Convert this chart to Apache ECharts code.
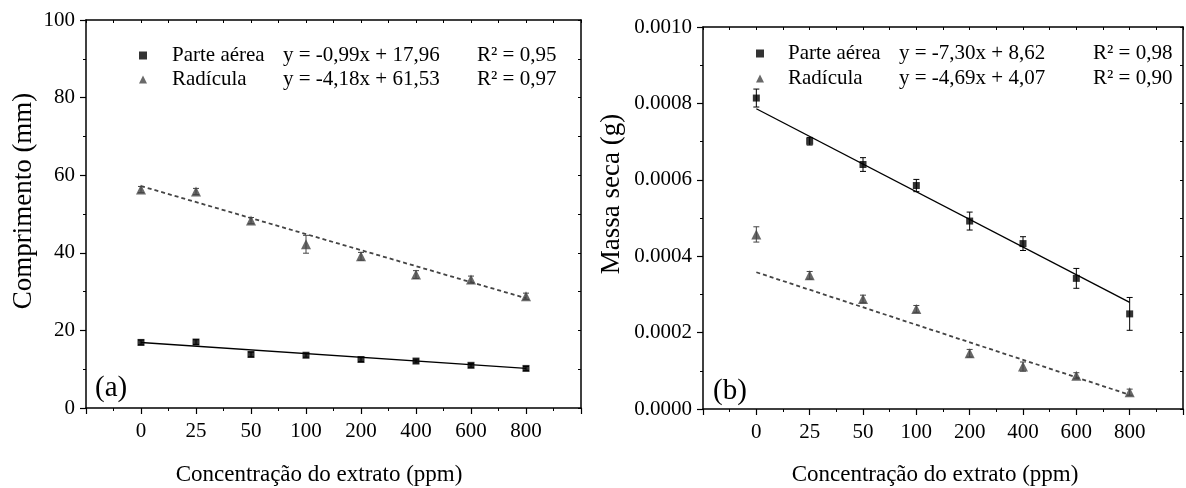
<!DOCTYPE html>
<html><head><meta charset="utf-8">
<script src="https://cdn.jsdelivr.net/npm/echarts@6/dist/echarts.min.js"></script>
<style>html,body{margin:0;padding:0;background:#fff}#c{width:1186px;height:488px}</style>
</head><body><div id="c"></div>
<script>
// ---- data ----
var categories = ['0','25','50','100','200','400','600','800'];
// panel (a) Comprimento (mm)
var aParte = [16.9, 17.0, 13.8, 13.6, 12.5, 12.1, 11.0, 10.2];
var aParteErr = [0.6, 0.6, 0.6, 0.5, 0.5, 0.5, 0.5, 0.5];
var aRad = [56.3, 55.8, 48.3, 42.2, 39.1, 34.4, 33.1, 28.8];
var aRadErr = [0.8, 0.8, 0.8, 2.3, 1.0, 1.0, 0.9, 0.8];
var aTrendParte = [16.9, 10.2];
var aTrendRad = [57.2, 28.3];
// panel (b) Massa seca (g)
var bParte = [0.000814, 0.000701, 0.000640, 0.000585, 0.000492, 0.000433, 0.000342, 0.000249];
var bParteErr = [0.0000235, 0.000010, 0.000018, 0.000016, 0.0000235, 0.000018, 0.000026, 0.000043];
var bRad = [0.000457, 0.000350, 0.000288, 0.000262, 0.000146, 0.000111, 0.000087, 0.000044];
var bRadErr = [0.000020, 0.000010, 0.000010, 0.000009, 0.000010, 0.000012, 0.000008, 0.000008];
var bTrendParte = [0.000786, 0.000279];
var bTrendRad = [0.000358, 0.000037];
var yTicksA = {min: 0, max: 100, interval: 20};
var yTicksB = {min: 0, max: 0.001, interval: 0.0002};
var eqA = {'Parte aérea': ['y = -0,99x + 17,96', 'R² = 0,95'], 'Radícula': ['y = -4,18x + 61,53', 'R² = 0,97']};
var eqB = {'Parte aérea': ['y = -7,30x + 8,62', 'R² = 0,98'], 'Radícula': ['y = -4,69x + 4,07', 'R² = 0,90']};

var FONT = 'Liberation Serif';
var BLACK = '#000';
var GRAY = '#444444';

function pts(arr){ return arr.map(function(v,i){ return [i, v]; }); }
function errData(vals, errs){ return vals.map(function(v,i){ return [i, v - errs[i], v + errs[i]]; }); }
function trendData(t){ return [[0, t[0]], [categories.length - 1, t[1]]]; }

function errSeries(name, vals, errs, idx, color){
  return {
    name: name, type: 'custom', xAxisIndex: idx*2, yAxisIndex: idx*2, z: 2,
    data: errData(vals, errs), silent: true,
    renderItem: function(params, api){
      var lo = api.coord([api.value(0), api.value(1)]);
      var hi = api.coord([api.value(0), api.value(2)]);
      var w = 3;
      return {type: 'group', children: [
        {type:'line', shape:{x1:lo[0], y1:lo[1], x2:hi[0], y2:hi[1]}, style:{stroke:color, lineWidth:1}},
        {type:'line', shape:{x1:lo[0]-w, y1:lo[1], x2:lo[0]+w, y2:lo[1]}, style:{stroke:color, lineWidth:1}},
        {type:'line', shape:{x1:hi[0]-w, y1:hi[1], x2:hi[0]+w, y2:hi[1]}, style:{stroke:color, lineWidth:1}}
      ]};
    }
  };
}

function xAxes(gi){
  return [{
    type: 'value', gridIndex: gi, min: -1, max: 8, interval: 1, position: 'bottom',
    axisLine: {show: true, onZero: false, lineStyle: {color: BLACK, width: 1.5}},
    axisTick: {show: true, inside: false, length: 6, lineStyle: {color: BLACK, width: 1.2}},
    minorTick: {show: true, splitNumber: 2, length: 3, lineStyle: {color: BLACK, width: 1}},
    splitLine: {show: false},
    axisLabel: {margin: 13, fontFamily: FONT, fontSize: 21, color: BLACK,
      formatter: function(v){ return (v >= 0 && v < categories.length) ? categories[v] : ''; }}
  }, {
    type: 'value', gridIndex: gi, min: -1, max: 8, interval: 0.5, position: 'top',
    axisLine: {show: true, onZero: false, lineStyle: {color: BLACK, width: 1.5}},
    axisTick: {show: true, inside: true, length: 3, lineStyle: {color: BLACK, width: 1}},
    splitLine: {show: false}, axisLabel: {show: false}
  }];
}
function yAxes(gi, t, fmt){
  return [{
    type: 'value', gridIndex: gi, min: t.min, max: t.max, interval: t.interval, position: 'left',
    axisLine: {show: true, onZero: false, lineStyle: {color: BLACK, width: 1.5}},
    axisTick: {show: true, inside: false, length: 6, lineStyle: {color: BLACK, width: 1.2}},
    minorTick: {show: true, splitNumber: 2, length: 3, lineStyle: {color: BLACK, width: 1}},
    splitLine: {show: false},
    axisLabel: {margin: 11, fontFamily: FONT, fontSize: 21, color: BLACK, formatter: fmt}
  }, {
    type: 'value', gridIndex: gi, min: t.min, max: t.max, interval: t.interval / 2, position: 'right',
    axisLine: {show: true, onZero: false, lineStyle: {color: BLACK, width: 1.5}},
    axisTick: {show: true, inside: true, length: 3, lineStyle: {color: BLACK, width: 1}},
    splitLine: {show: false}, axisLabel: {show: false}
  }];
}

function legendFor(eq, left, top, gap, spacer){
  return {
    left: left, top: top, orient: 'vertical', itemGap: gap, itemWidth: 8, itemHeight: 8,
    selectedMode: false,
    data: [{name: 'Parte aérea', icon: 'rect'}, {name: 'Radícula', icon: 'triangle'}],
    formatter: function(name){
      return '{s|}{n|' + name + '}{e|' + eq[name][0] + '}{r|' + eq[name][1] + '}';
    },
    textStyle: {fontFamily: FONT, fontSize: 21, color: BLACK,
      rich: {
        s: {width: spacer, fontFamily: FONT, fontSize: 21, lineHeight: 24},
        n: {width: 111, fontFamily: FONT, fontSize: 21, lineHeight: 24, color: BLACK},
        e: {width: 194, fontFamily: FONT, fontSize: 21, lineHeight: 24, color: BLACK},
        r: {fontFamily: FONT, fontSize: 21, lineHeight: 24, color: BLACK}
      }}
  };
}

function txt(text, x, y, size, rot, align){
  return {type: 'text', x: x, y: y, rotation: rot || 0,
    style: {text: text, fontFamily: FONT, fontSize: size, fill: BLACK,
      textAlign: align || 'center', textVerticalAlign: 'middle'}};
}

var chart = echarts.init(document.getElementById('c'), null, {renderer: 'canvas'});
var option = {
  backgroundColor: '#fff',
  animation: false,
  grid: [
    {left: 86, top: 20, width: 495, height: 388},
    {left: 703, top: 27, width: 482, height: 382}
  ],
  xAxis: xAxes(0).concat(xAxes(1)),
  yAxis: yAxes(0, yTicksA, function(v){ return String(Math.round(v)); })
    .concat(yAxes(1, yTicksB, function(v){ return v.toFixed(4); })),
  legend: [legendFor(eqA, 134, 40, 3, 20), legendFor(eqB, 751, 38, 4, 19)],
  graphic: [
    txt('Comprimento (mm)', 24, 201, 27, Math.PI/2),
    txt('Massa seca (g)', 612, 194, 27, Math.PI/2),
    txt('Concentração do extrato (ppm)', 319, 475, 23),
    txt('Concentração do extrato (ppm)', 935, 475, 23),
    txt('(a)', 95, 388, 29, 0, 'left'),
    txt('(b)', 713, 391, 29, 0, 'left')
  ],
  series: [
    // panel a
    {name: 'trendA1', type: 'line', xAxisIndex: 0, yAxisIndex: 0, data: trendData(aTrendParte), symbol: 'none', z: 1,
      lineStyle: {color: BLACK, width: 1.4}},
    {name: 'trendA2', type: 'line', xAxisIndex: 0, yAxisIndex: 0, data: trendData(aTrendRad), symbol: 'none', z: 1,
      lineStyle: {color: GRAY, width: 1.8, type: [4, 3]}},
    errSeries('errA1', aParte, aParteErr, 0, BLACK),
    errSeries('errA2', aRad, aRadErr, 0, GRAY),
    {name: 'Parte aérea', type: 'scatter', xAxisIndex: 0, yAxisIndex: 0, data: pts(aParte), symbol: 'rect', symbolSize: 7, z: 3,
      itemStyle: {color: BLACK}},
    {name: 'Radícula', type: 'scatter', xAxisIndex: 0, yAxisIndex: 0, data: pts(aRad), symbol: 'triangle', symbolSize: 10, z: 3,
      itemStyle: {color: GRAY}},
    // panel b
    {name: 'trendB1', type: 'line', xAxisIndex: 2, yAxisIndex: 2, data: trendData(bTrendParte), symbol: 'none', z: 1,
      lineStyle: {color: BLACK, width: 1.4}},
    {name: 'trendB2', type: 'line', xAxisIndex: 2, yAxisIndex: 2, data: trendData(bTrendRad), symbol: 'none', z: 1,
      lineStyle: {color: GRAY, width: 1.8, type: [4, 3]}},
    errSeries('errB1', bParte, bParteErr, 1, BLACK),
    errSeries('errB2', bRad, bRadErr, 1, GRAY),
    {name: 'Parte aérea', type: 'scatter', xAxisIndex: 2, yAxisIndex: 2, data: pts(bParte), symbol: 'rect', symbolSize: 7, z: 3,
      itemStyle: {color: BLACK}},
    {name: 'Radícula', type: 'scatter', xAxisIndex: 2, yAxisIndex: 2, data: pts(bRad), symbol: 'triangle', symbolSize: 10, z: 3,
      itemStyle: {color: GRAY}}
  ]
};
chart.setOption(option);
</script>
</body></html>
